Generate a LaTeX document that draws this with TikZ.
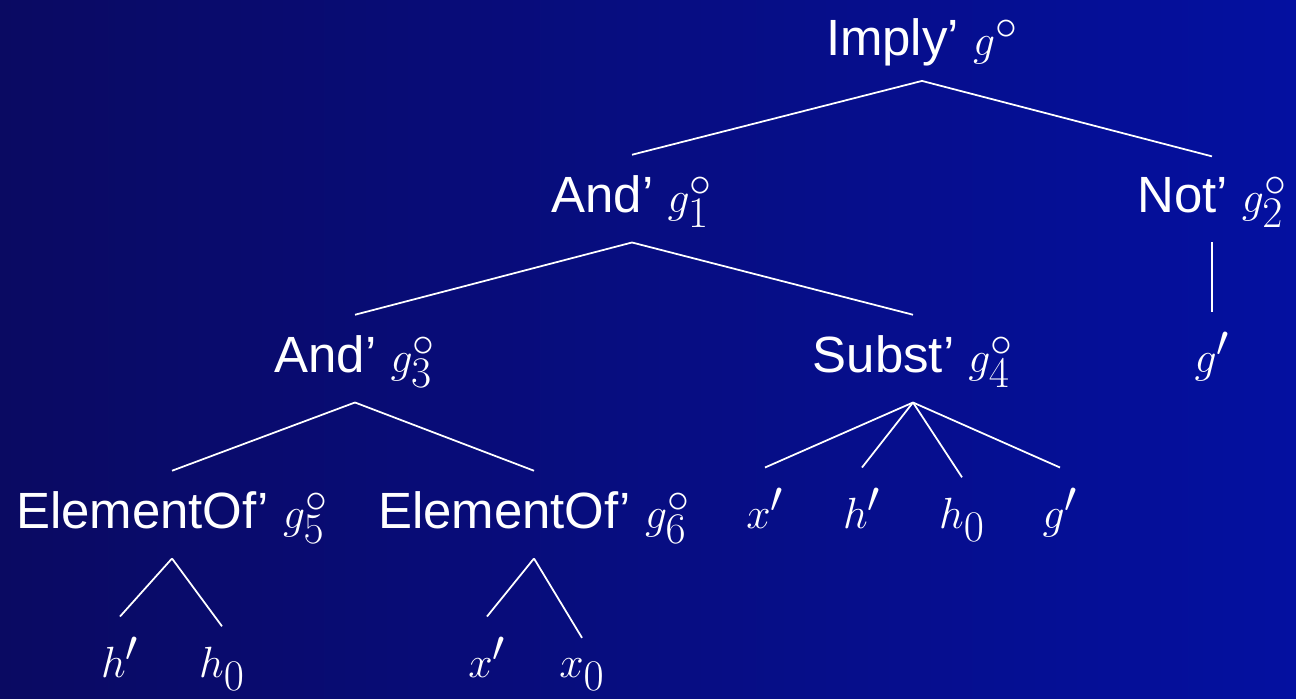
\documentclass[tikz,border=0pt]{standalone}
\usepackage{fontspec}
\setmainfont{Liberation Sans}
\usepackage{tikz}
\usetikzlibrary{positioning}
\definecolor{bgleft}{RGB}{10,10,98}
\definecolor{bgright}{RGB}{4,16,160}
\tikzset{
  lab/.style={text=white, inner sep=0pt, anchor=base,
              font=\fontsize{29}{34}\selectfont},
  edge/.style={white, line width=1pt}
}
% math part, a bit larger than the words
\newcommand{\mv}[1]{{\fontsize{35}{40}\selectfont$#1$}}
% line from below a parent to above a child
\newcommand{\branch}[2]{%
  \draw[edge] ([yshift=-0.3cm]#1.south) -- ([yshift=0.4cm]#2.north);}

\begin{document}
\begin{tikzpicture}[x=0.02cm, y=-0.02cm]
  % background
  \shade[left color=bgleft, right color=bgright] (0,0) rectangle (1296,698);
  \useasboundingbox (0,0) rectangle (1296,698);
  % root and first level
  \node[lab] (imp) at (922,55)  {Imply’ \mv{g^\circ}};
  \node[lab] (and1) at (632,212) {And’ \mv{g_1^\circ}};
  \node[lab] (not) at (1212,212) {Not’ \mv{g_2^\circ}};
  % second level
  \node[lab] (and3) at (355,372)  {And’ \mv{g_3^\circ}};
  \node[lab] (sub) at (913,372)   {Subst’ \mv{g_4^\circ}};
  \node[lab] (gn) at (1212,372)   {\mv{g'}};
  % third level
  \node[lab] (el5) at (172,528) {ElementOf’ \mv{g_5^\circ}};
  \node[lab] (el6) at (534,528) {ElementOf’ \mv{g_6^\circ}};
  \node[lab] (sx) at (765,528)  {\mv{x'}};
  \node[lab] (sh) at (862,528)  {\mv{h'}};
  \node[lab] (sh0) at (962,528) {\mv{h_0}};
  \node[lab] (sg) at (1060,528) {\mv{g'}};
  % leaves
  \node[lab] (lh) at (120,677)  {\mv{h'}};
  \node[lab] (lh0) at (222,677) {\mv{h_0}};
  \node[lab] (lx) at (487,677)  {\mv{x'}};
  \node[lab] (lx0) at (582,677) {\mv{x_0}};

  \branch{imp}{and1}
  \branch{imp}{not}
  \branch{and1}{and3}
  \branch{and1}{sub}
  \branch{not}{gn}
  \branch{and3}{el5}
  \branch{and3}{el6}
  \foreach \c in {sx, sh, sh0, sg} {\branch{sub}{\c}}
  \branch{el5}{lh}
  \branch{el5}{lh0}
  \branch{el6}{lx}
  \branch{el6}{lx0}
\end{tikzpicture}
\end{document}
